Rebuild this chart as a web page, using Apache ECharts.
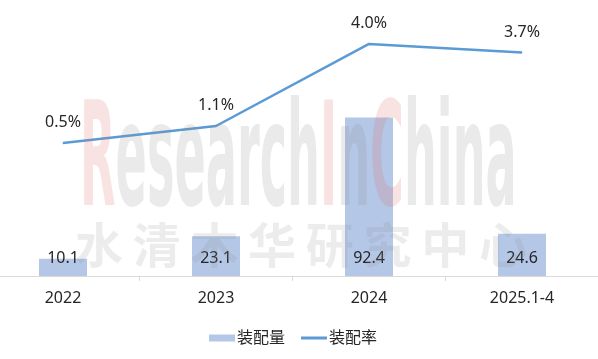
<!DOCTYPE html>
<html>
<head>
<meta charset="utf-8">
<script src="https://cdn.jsdelivr.net/npm/echarts@6/dist/echarts.min.js"></script>
<style>html,body{margin:0;padding:0;background:#fff;}#c{width:598px;height:359px;}</style>
</head>
<body>
<div id="c"></div>
<script>
const categories = ['2022', '2023', '2024', '2025.1-4'];
const installVolume = [10.1, 23.1, 92.4, 24.6];
const installRate = [0.5, 1.1, 4.0, 3.7];
const seriesNames = ['装配量', '装配率'];

const FONT = "'Noto Sans', 'Noto Sans CJK SC', sans-serif";
const chart = echarts.init(document.getElementById('c'));

const wmChars = '水清木华研究中心'.split('');
const wmGraphics = [
  {
    type: 'text', x: 80, y: 95, scaleX: 1.1, scaleY: 3.45, z: 100, silent: true,
    style: {
      text: '{r|R}{g|esearch}{r|I}{g|n}{r|C}{g|hina}',
      x: 0, y: 0, verticalAlign: 'top',
      font: "bold 42px 'DejaVu Sans'",
      rich: {
        r: { fill: 'rgba(225,110,110,0.2)', font: "bold 42px 'DejaVu Sans'" },
        g: { fill: 'rgba(140,140,140,0.18)', font: "bold 42px 'DejaVu Sans'" }
      }
    }
  }
].concat(wmChars.map((ch, i) => ({
  type: 'text', x: 75 + i * 57.7, y: 221, z: 100, silent: true,
  style: { text: ch, font: "bold 48px 'Noto Sans CJK SC'", fill: 'rgba(140,140,140,0.17)', verticalAlign: 'top' }
})));

chart.setOption({
  animation: false,
  backgroundColor: '#ffffff',
  textStyle: { fontFamily: FONT },
  grid: { left: -13.5, width: 612, top: 10, height: 266, containLabel: false, outerBoundsMode: 'none' },
  legend: {
    data: [
      { name: seriesNames[0], icon: 'rect' },
      { name: seriesNames[1], icon: 'path://M0,0 L26,0 L26,3 L0,3 Z' }
    ],
    top: 325, left: 204,
    itemWidth: 26, itemHeight: 7, itemGap: 16,
    textStyle: { fontSize: 16, color: '#262626', fontFamily: FONT, padding: [0, 0, 0, -3] }
  },
  xAxis: {
    type: 'category',
    data: categories,
    axisLine: { lineStyle: { color: '#D9D9D9', width: 1 } },
    axisTick: { show: true, length: 5, lineStyle: { color: '#D9D9D9' } },
    axisLabel: { fontSize: 16, color: '#262626', margin: 14, fontFamily: FONT }
  },
  yAxis: [
    { type: 'value', min: 0, max: 155, show: false, splitLine: { show: false } },
    { type: 'value', min: -4.2, max: 5.2, show: false, splitLine: { show: false } }
  ],
  series: [
    {
      name: seriesNames[0], type: 'bar', data: installVolume, barWidth: 48,
      itemStyle: { color: '#B4C7E7' },
      label: { show: true, position: 'insideBottom', distance: 10, fontSize: 16, color: '#262626', fontFamily: FONT }
    },
    {
      name: seriesNames[1], type: 'line', yAxisIndex: 1, data: installRate,
      symbol: 'circle', symbolSize: 1, showSymbol: true,
      lineStyle: { color: '#5B9BD5', width: 2.5 },
      itemStyle: { color: '#5B9BD5' },
      label: { show: true, position: 'top', distance: 12, fontSize: 16, color: '#262626', fontFamily: FONT,
        formatter: p => p.value.toFixed(1) + '%' }
    }
  ],
  graphic: wmGraphics
});
</script>
</body>
</html>
